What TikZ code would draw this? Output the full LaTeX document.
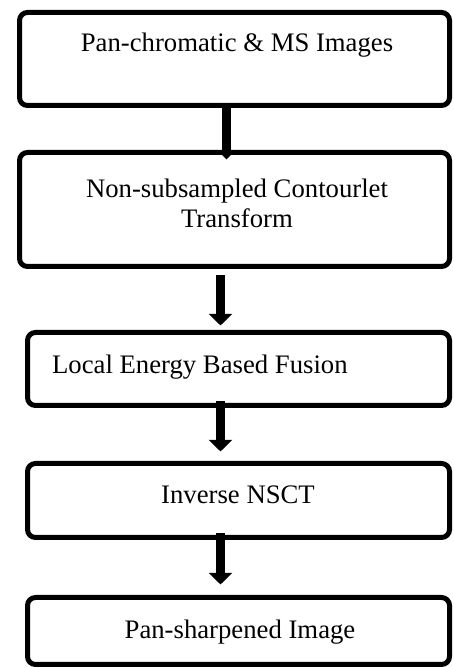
\documentclass[tikz,border=0pt]{standalone}
\usepackage{fontspec}
\setmainfont{Liberation Serif}
\usepackage{tikz}
\usetikzlibrary{arrows.meta, positioning, calc}

\begin{document}
\begin{tikzpicture}[
    box/.style={draw, line width=0.25cm, rounded corners=0.4cm, inner sep=0pt},
    lbl/.style={font=\fontsize{38}{43}\selectfont, align=center, inner sep=0pt},
    flow/.style={line width=0.47cm, -{Triangle[width=1.15cm, length=0.58cm]}},
    >=Stealth
]
\useasboundingbox (0,0) rectangle (22.65,33.4);

% blocks
\node[box, minimum width=21.5cm, minimum height=4.65cm] (pan) at (11.725,30.45) {};
\node[box, minimum width=21.5cm, minimum height=5.7cm] (nsct) at (11.725,22.925) {};
\node[box, minimum width=21.1cm, minimum height=3.65cm] (fusion) at (11.925,14.95) {};
\node[box, minimum width=21.1cm, minimum height=3.7cm] (inv) at (11.925,8.375) {};
\node[box, minimum width=21.1cm, minimum height=3.35cm] (out) at (11.925,1.85) {};

% texts
\node[lbl] (panlbl) at (11.85,31.15) {Pan-chromatic \& MS Images};
\node[lbl] (nsctlbl) at (11.85,23.25) {Non-subsampled Contourlet\\Transform};
\node[lbl, anchor=west] (fusionlbl) at (2.6,15.05) {Local Energy Based Fusion};
\node[lbl] (invlbl) at (11.9,8.65) {Inverse NSCT};
\node[lbl] (outlbl) at (12.0,1.8) {Pan-sharpened Image};

% arrows
\draw[line width=0.47cm, -{Triangle[width=0.55cm, length=0.3cm]}, shorten >=-0.475cm]
    ([xshift=-0.4cm]pan.south) -- ([xshift=-0.4cm]nsct.north);
\draw[flow, shorten <=0.325cm, shorten >=0.225cm]
    ([xshift=-0.7cm]nsct.south) -- ([xshift=-0.9cm]fusion.north);
\draw[flow, shorten <=-0.325cm, shorten >=0.475cm]
    ([xshift=-0.9cm]fusion.south) -- ([xshift=-0.9cm]inv.north);
\draw[flow, shorten <=-0.325cm, shorten >=0.525cm]
    ([xshift=-0.9cm]inv.south) -- ([xshift=-0.9cm]out.north);
\end{tikzpicture}
\end{document}
